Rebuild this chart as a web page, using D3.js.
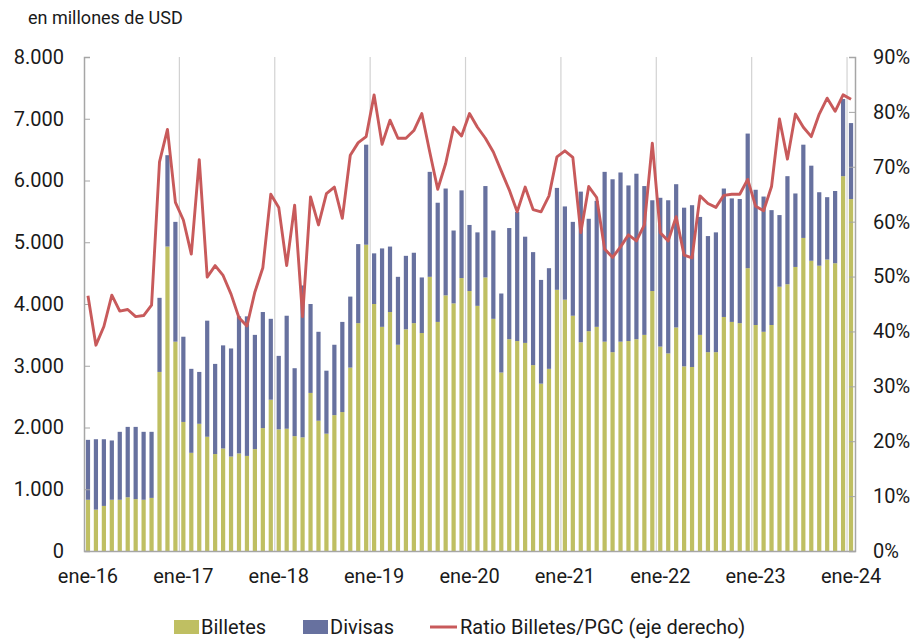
<!DOCTYPE html>
<html>
<head>
<meta charset="utf-8">
<script src="https://cdn.jsdelivr.net/npm/d3@7"></script>
<style>
  body { margin: 0; background: #fff; }
  svg text { font-family: Roboto, "Noto Sans", sans-serif; fill: #1a1a1a; }
  .axis path, .axis line { stroke: #a6a6a6; }
</style>
</head>
<body>
<div id="chart"></div>
<script>
var mesesAbr = ["ene","feb","mar","abr","may","jun","jul","ago","sep","oct","nov","dic"];
var anios = ["16","17","18","19","20","21","22","23","24"];
var fechas = [];
anios.forEach(function(a) {
  mesesAbr.forEach(function(m) { if (fechas.length < 97) fechas.push(m + "-" + a); });
});

var etiquetasX = ["ene-16","ene-17","ene-18","ene-19","ene-20","ene-21","ene-22","ene-23","ene-24"];
var ticksIzq = [0, 1000, 2000, 3000, 4000, 5000, 6000, 7000, 8000];
var ticksDer = [0, 0.1, 0.2, 0.3, 0.4, 0.5, 0.6, 0.7, 0.8, 0.9];

// millones de USD
var billetes = [
  830, 670, 730, 830, 830, 870, 840, 830, 860, 2900, 4930, 3390,
  2090, 1590, 2060, 1850, 1570, 1660, 1530, 1580, 1540, 1650, 1990, 2450,
  1970, 1980, 1860, 1840, 2560, 2110, 1900, 2200, 2250, 2970, 3690, 4960,
  4000, 3630, 3870, 3340, 3590, 3690, 3530, 4440, 3710, 4140, 4010, 4420,
  4210, 3970, 4430, 3760, 2890, 3430, 3400, 3370, 3010, 2710, 2950, 4230,
  4070, 3810, 3380, 3560, 3630, 3390, 3220, 3390, 3400, 3430, 3500, 4210,
  3310, 3200, 3620, 2990, 2980, 3500, 3220, 3220, 3790, 3710, 3690, 4580,
  3660, 3550, 3660, 4280, 4320, 4600, 5070, 4700, 4620, 4720, 4660, 6070,
  5700
];
var divisas = [
  970, 1140, 1080, 960, 1100, 1140, 1170, 1100, 1070, 1200, 1480, 1940,
  1380, 1360, 840, 1880, 1460, 1670, 1750, 2220, 2260, 1850, 1880, 1310,
  1190, 1830, 1100, 2460, 1440, 1440, 1020, 1140, 1460, 1150, 1280, 1620,
  820, 1270, 1060, 1100, 1190, 1140, 900, 1700, 1930, 1730, 1180, 1420,
  1070, 1190, 1480, 1430, 1280, 1800, 2090, 1720, 1830, 1680, 1630, 1650,
  1510, 1520, 2440, 1820, 2040, 2750, 2800, 2740, 2520, 2680, 2410, 1470,
  2410, 2480, 2320, 2570, 2620, 1910, 1880, 1940, 2080, 2000, 2010, 2180,
  2190, 2190, 1860, 1160, 1750, 1190, 1510, 1540, 1190, 1010, 1170, 1250,
  1230
];
// Ratio Billetes/PGC (%)
var ratio = [
  46.5, 37.5, 40.9, 46.6, 43.7, 44.0, 42.7, 42.9, 44.8, 70.9, 76.8, 63.5,
  60.3, 54.1, 71.3, 49.9, 52.0, 50.2, 46.8, 42.5, 41.0, 47.2, 51.6, 65.0,
  62.6, 52.0, 63.0, 42.7, 64.5, 59.4, 65.1, 66.3, 60.6, 72.1, 74.4, 75.5,
  83.1, 74.1, 78.5, 75.2, 75.2, 76.6, 79.7, 72.7, 65.9, 70.6, 77.2, 75.6,
  79.7, 77.2, 75.2, 72.7, 69.2, 65.8, 61.8, 66.3, 62.2, 61.8, 64.7, 71.8,
  72.9, 71.7, 58.0, 66.4, 64.4, 55.0, 53.5, 55.4, 57.6, 56.5, 59.4, 74.3,
  58.0, 56.5, 60.9, 53.9, 53.4, 64.7, 63.3, 62.6, 64.8, 65.0, 65.0, 67.7,
  62.8, 62.0, 66.4, 78.7, 71.4, 79.6, 77.2, 75.5, 79.6, 82.5, 80.1, 83.1,
  82.3
];

var datos = fechas.map(function(f, i) {
  return { fecha: f, billetes: billetes[i], divisas: divisas[i], ratio: ratio[i] / 100 };
});

var colBilletes = "#bfbf62", colDivisas = "#67719f", colRatio = "#c85a5b";

var W = 920, H = 640;
var margin = {top: 57, right: 65, bottom: 89, left: 84},
    width = W - margin.left - margin.right,
    height = H - margin.top - margin.bottom;

var svg = d3.select("#chart").append("svg")
    .attr("width", W).attr("height", H);

var g = svg.append("g")
    .attr("transform", "translate(" + margin.left + "," + margin.top + ")");

var x = d3.scaleBand().domain(fechas).range([0, width]).paddingInner(0.47).paddingOuter(0.235);
var y = d3.scaleLinear().domain([0, 8000]).range([height, 0]);
var y2 = d3.scaleLinear().domain([0, 0.9]).range([height, 0]);

var step = x.step();

// gridlines verticales en el cambio de año
g.append("g")
  .selectAll("line")
  .data(etiquetasX.slice(1))
  .enter().append("line")
    .attr("x1", function(d) { return x(d) - (step - x.bandwidth()) / 2; })
    .attr("x2", function(d) { return x(d) - (step - x.bandwidth()) / 2; })
    .attr("y1", 0).attr("y2", height)
    .attr("stroke", "#d2d2d2").attr("stroke-width", 1.2);

// barras apiladas
var serie = d3.stack().keys(["billetes", "divisas"])(datos);
var colores = [colBilletes, colDivisas];

g.selectAll(".serie")
  .data(serie)
  .enter().append("g")
    .attr("fill", function(d, i) { return colores[i]; })
  .selectAll("rect")
  .data(function(d) { return d; })
  .enter().append("rect")
    .attr("x", function(d) { return x(d.data.fecha); })
    .attr("width", x.bandwidth())
    .attr("y", function(d) { return y(d[1]); })
    .attr("height", function(d) { return y(d[0]) - y(d[1]); });

// ejes
var ejeIzq = g.append("g").attr("class", "axis")
    .call(d3.axisLeft(y).tickValues(ticksIzq).tickSize(-6).tickPadding(20)
      .tickFormat(function(d) { return d3.format(",")(d).replace(/,/g, "."); }));
var ejeDer = g.append("g").attr("class", "axis")
    .attr("transform", "translate(" + width + ",0)")
    .call(d3.axisRight(y2).tickValues(ticksDer).tickSize(-6).tickPadding(18)
      .tickFormat(d3.format(".0%")));
var ejeX = g.append("g").attr("class", "axis")
    .attr("transform", "translate(0," + height + ")")
    .call(d3.axisBottom(x).tickValues(etiquetasX).tickSize(0).tickPadding(18));

[ejeIzq, ejeDer, ejeX].forEach(function(e) {
  e.selectAll("path").attr("stroke-width", 1.5);
  e.selectAll("text").style("font-size", "20px").attr("fill", "#1a1a1a");
});

// línea del ratio
var linea = d3.line()
    .x(function(d) { return x(d.fecha) + x.bandwidth() / 2; })
    .y(function(d) { return y2(d.ratio); });

g.append("path")
    .datum(datos)
    .attr("fill", "none")
    .attr("stroke", colRatio)
    .attr("stroke-width", 2.9)
    .attr("stroke-linejoin", "round")
    .attr("d", linea);

// título del eje
svg.append("text")
    .attr("x", 28).attr("y", 24)
    .style("font-size", "18px")
    .text("en millones de USD");

// leyenda
var leyenda = [
  {nombre: "Billetes", tipo: "rect", color: colBilletes, x: 174},
  {nombre: "Divisas", tipo: "rect", color: colDivisas, x: 303},
  {nombre: "Ratio Billetes/PGC (eje derecho)", tipo: "line", color: colRatio, x: 430}
];
var items = svg.append("g").selectAll("g")
  .data(leyenda)
  .enter().append("g")
    .attr("transform", function(d) { return "translate(" + d.x + ",627)"; });
items.filter(function(d) { return d.tipo === "rect"; })
  .append("rect")
    .attr("x", 0).attr("y", -7).attr("width", 25).attr("height", 14)
    .attr("fill", function(d) { return d.color; });
items.filter(function(d) { return d.tipo === "line"; })
  .append("line")
    .attr("x1", 0).attr("x2", 27).attr("y1", 0).attr("y2", 0)
    .attr("stroke", function(d) { return d.color; }).attr("stroke-width", 3);
items.append("text")
    .attr("x", function(d) { return d.tipo === "rect" ? 27 : 30; })
    .attr("dy", "0.35em")
    .style("font-size", "20px")
    .text(function(d) { return d.nombre; });
</script>
</body>
</html>
